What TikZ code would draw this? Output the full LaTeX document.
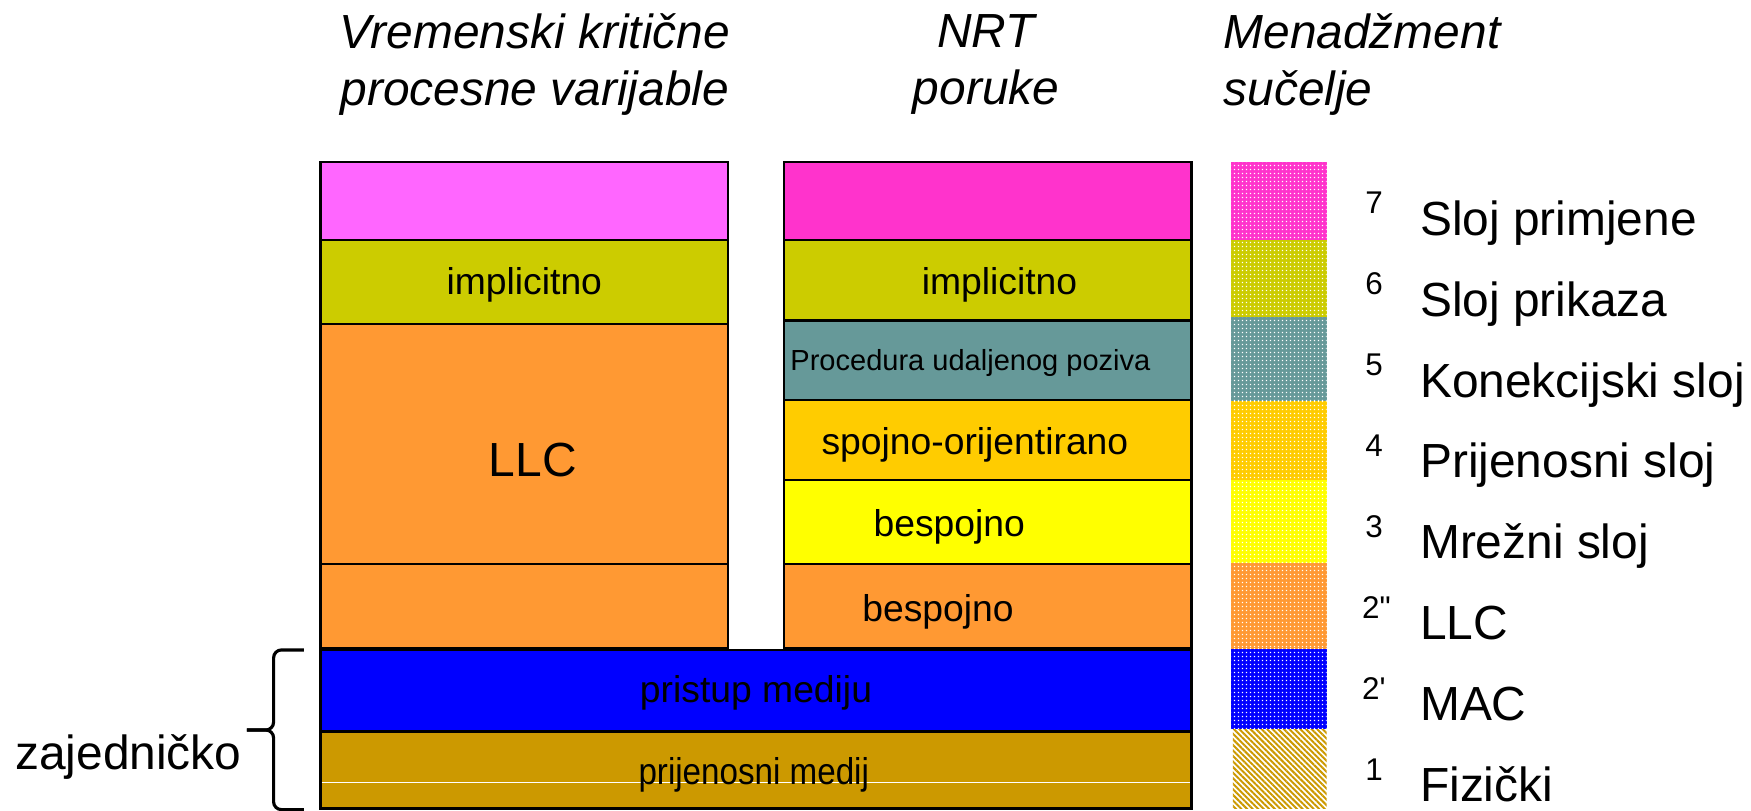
\documentclass[tikz,border=0pt]{standalone}
\usepackage{fontspec}
\setmainfont{Liberation Sans}
\usepackage{graphicx}
\usepackage{tikz}
\usetikzlibrary{
  positioning,
  patterns.meta
}
\definecolor{appleft}{HTML}{FF66FF}
\definecolor{appright}{HTML}{FF33CC}
\definecolor{presol}{HTML}{CCCC00}
\definecolor{sesteal}{HTML}{669999}
\definecolor{transp}{HTML}{FFCC00}
\definecolor{netyel}{HTML}{FFFF00}
\definecolor{llcor}{HTML}{FF9933}
\definecolor{macblue}{HTML}{0000FF}
\definecolor{phybrown}{HTML}{CC9900}

\tikzdeclarepattern{
  name=finedots, type=uncolored,
  bounding box={(0pt,0pt) and (0.9pt,0.9pt)},
  tile size={(0.9pt,0.9pt)},
  code={\fill (0.25pt,0.25pt) rectangle (0.6pt,0.6pt);}
}
\tikzset{
  layer/.style   = {draw, line width=0.6pt, inner sep=0pt, outer sep=0pt,
                    minimum width=3.65cm},
  wide/.style    = {layer, minimum width=7.80cm},
  txt/.style     = {inner sep=0pt, font=\fontsize{9.5}{11}\selectfont},
  head/.style    = {inner sep=0pt, align=center,
                    font=\fontsize{12.2}{14.6}\selectfont\itshape},
  osi/.style     = {inner sep=0pt, anchor=base west,
                    font=\fontsize{12.2}{14.6}\selectfont},
  osinum/.style  = {inner sep=0pt, anchor=base west,
                    font=\fontsize{8}{9}\selectfont},
  dotband/.style = {preaction={fill=#1}, pattern=finedots, pattern color=white},
  hatchband/.style = {pattern={Lines[angle=-45, distance=1pt, line width=0.5pt]},
                      pattern color=phybrown},
  brace/.style   = {line width=0.8pt, rounded corners=2pt},
}

\begin{document}
\begin{tikzpicture}
\useasboundingbox (0,0) rectangle (15.68,7.26);

% ========== headers ==========
\node[head] (hvar) at (4.79,6.68) {Vremenski kritične\\procesne varijable};
\node[head] (hnrt) at (8.83,6.68) {NRT\\poruke};
\node[head, align=left, anchor=west] (hman) at (10.95,6.68) {Menadžment\\sučelje};

% ========== LEFT: time critical variables ==========
\node[layer, fill=appleft, minimum height=0.70cm] (lapp) at (4.695,5.46) {};
\node[layer, fill=presol, minimum height=0.75cm, below=0pt of lapp] (limpl) {};
\node[layer, fill=llcor, minimum height=2.15cm, below=0pt of limpl] (lllc) {};
\node[layer, fill=llcor, minimum height=0.75cm, below=0pt of lllc] (lllc2) {};

% ========== RIGHT: NRT messages ==========
\node[layer, fill=appright, minimum height=0.70cm] (rapp) at (8.845,5.46) {};
\node[layer, fill=presol, minimum height=0.72cm, below=0pt of rapp] (rimpl) {};
\node[layer, fill=sesteal, minimum height=0.71cm, below=0pt of rimpl] (rrpc) {};
\node[layer, fill=transp, minimum height=0.72cm, below=0pt of rrpc] (rconn) {};
\node[layer, fill=netyel, minimum height=0.75cm, below=0pt of rconn] (rcl) {};
\node[layer, fill=llcor, minimum height=0.75cm, below=0pt of rcl] (rllc) {};

% ========== common layers ==========
\node[wide, fill=macblue, minimum height=0.73cm] (mac) at (6.77,1.075) {};
\node[wide, fill=phybrown, minimum height=0.69cm, below=0pt of mac] (phy) {};
\draw[white, line width=0.3pt] ([yshift=-0.115cm, xshift=0.3pt]phy.west) -- ([yshift=-0.115cm, xshift=-0.3pt]phy.east);

% block texts
\node[txt] (tlimpl) at ([yshift=-0.025cm]limpl.center) {implicitno};
\node[txt, font=\fontsize{12.2}{14}\selectfont] (tllc) at ([xshift=0.075cm, yshift=-0.145cm]lllc.center) {LLC};
\node[txt] (trimpl) at ([xshift=0.105cm, yshift=-0.04cm]rimpl.center) {implicitno};
\node[txt, font=\fontsize{7.4}{9}\selectfont] (trpc) at ([xshift=-0.155cm, yshift=-0.025cm]rrpc.center) {Procedura udaljenog poziva};
\node[txt] (tconn) at ([xshift=-0.115cm, yshift=-0.04cm]rconn.center) {spojno-orijentirano};
\node[txt] (tcl) at ([xshift=-0.345cm, yshift=-0.04cm]rcl.center) {bespojno};
\node[txt] (trllc) at ([xshift=-0.445cm, yshift=-0.05cm]rllc.center) {bespojno};
\node[txt] (tmac) at ([yshift=-0.015cm]mac.center) {pristup mediju};
\node[txt] (tphy) at ([xshift=-0.02cm, yshift=-0.04cm]phy.center) {\scalebox{0.89}[1]{prijenosni medij}};

% brace for the shared part
\coordinate (btop) at ([xshift=-0.15cm]phy.north west |- mac.north);
\coordinate (bbot) at ([xshift=-0.15cm, yshift=-0.01cm]phy.south west);
\coordinate (bmid) at ([xshift=-0.42cm, yshift=0.013cm]mac.south west);
\coordinate (btip) at ([xshift=-0.66cm, yshift=0.013cm]mac.south west);
\draw[brace] (btop) -| (bmid) -- (btip);
\draw[brace] (btip) -- (bmid) |- (bbot);
\node[osi] (common) at (0.13,0.37) {zajedničko};

% ========== OSI reference column ==========
\path[dotband=appright] (11.02,5.81) rectangle (11.88,5.11);
\path[dotband=presol]   (11.02,5.11) rectangle (11.88,4.42);
\path[dotband=sesteal]  (11.02,4.42) rectangle (11.88,3.67);
\path[dotband=transp]   (11.02,3.67) rectangle (11.88,2.96);
\path[dotband=netyel]   (11.02,2.96) rectangle (11.88,2.22);
\path[dotband=llcor]    (11.02,2.22) rectangle (11.88,1.45);
\path[dotband=macblue]  (11.02,1.45) rectangle (11.88,0.73);
\path[hatchband]        (11.04,0.73) rectangle (11.88,0.02);

\node[osinum] (n7) at (12.22,5.345) {7};
\node[osi]    (l7) at (12.71,5.155) {Sloj primjene};
\node[osinum] (n6) at (12.22,4.62)  {6};
\node[osi]    (l6) at (12.71,4.43)  {Sloj prikaza};
\node[osinum] (n5) at (12.22,3.895) {5};
\node[osi]    (l5) at (12.71,3.705) {Konekcijski sloj};
\node[osinum] (n4) at (12.22,3.17)  {4};
\node[osi]    (l4) at (12.71,2.98)  {Prijenosni sloj};
\node[osinum] (n3) at (12.22,2.445) {3};
\node[osi]    (l3) at (12.71,2.255) {Mrežni sloj};
\node[osinum] (n2b) at (12.19,1.72) {2\textquotedbl};
\node[osi]    (l2b) at (12.71,1.53) {LLC};
\node[osinum] (n2a) at (12.19,0.995) {2\textquotesingle};
\node[osi]    (l2a) at (12.71,0.805) {MAC};
\node[osinum] (n1) at (12.22,0.27)  {1};
\node[osi]    (l1) at (12.71,0.08)  {Fizički};

\end{tikzpicture}
\end{document}
